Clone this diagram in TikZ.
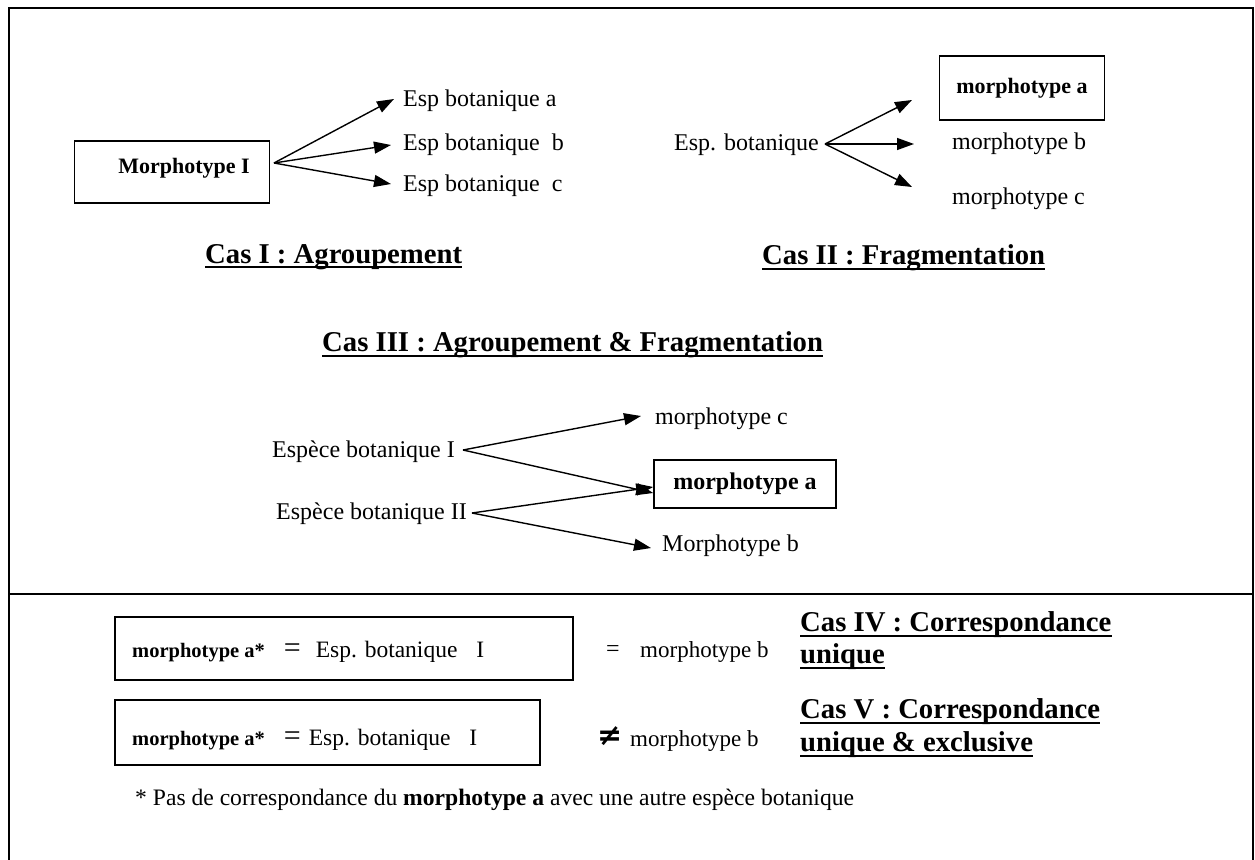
\documentclass[tikz,border=0pt]{standalone}
\usepackage{fontspec}
\setmainfont{Liberation Serif}
\newfontfamily\dejavu{DejaVu Sans}
\usetikzlibrary{arrows.meta}
\newcommand{\bigeqsign}{{\fontsize{30}{30}\selectfont=}}
\begin{document}
\begin{tikzpicture}[x=1pt,y=-1pt,
  reg/.style={inner sep=0pt, anchor=west, font=\fontsize{24}{28}\selectfont},
  sml/.style={inner sep=0pt, anchor=west, font=\fontsize{23}{26}\selectfont},
  rowtxt/.style={inner sep=0pt, anchor=base west, font=\fontsize{23.5}{26}\selectfont},
  bld/.style={inner sep=0pt, font=\fontsize{22}{26}\selectfont\bfseries},
  ttl/.style={inner sep=0pt, anchor=west, font=\fontsize{28.7}{32}\selectfont\bfseries},
  boxed/.style={draw, line width=1.6pt, inner sep=0pt},
  arr/.style={line width=1.4pt, -{Triangle[length=17pt,width=12pt]}},
  frm/.style={line width=1.8pt},
  uline/.style={line width=1.7pt}]
\useasboundingbox (0,0) rectangle (1255,859);
% frame
\draw[frm] (9,875) -- (9,8) -- (1253,8) -- (1253,875);
\draw[frm] (9,594) -- (1253,594);

% ---------- Cas I
\node[boxed, minimum width=195pt, minimum height=62pt] (m1) at (172,172) {};
\node[bld] (m1t) at (184,168) {Morphotype I};
\coordinate (o1) at (274,163);
\node[reg] (ea) at (403,101) {Esp botanique a};
\node[reg] (eb) at (403,145) {Esp botanique\ \ b};
\node[reg] (ec) at (403,186) {Esp botanique\ \ c};
\draw[arr] (o1) -- ([xshift=-9pt,yshift=2pt]ea.west);
\draw[arr] (o1) -- ([xshift=-12pt]eb.west);
\draw[arr] (o1) -- ([xshift=-12pt,yshift=2pt]ec.west);
\node[ttl] (t1) at (205,257) {Cas I : Agroupement};
\draw[uline] ([yshift=-4pt]t1.base west) -- ([yshift=-4pt]t1.base east);

% ---------- Cas II
\node[reg] (esp) at (674,145) {Esp. botanique};
\coordinate (o2) at (825,144);
\node[boxed, bld, minimum width=165pt, minimum height=64pt] (ma) at (1022,88) {morphotype a};
\node[reg] (mb) at (952,144) {morphotype b};
\node[reg] (mc) at (952,199) {morphotype c};
\coordinate (t2a) at (912,100);
\draw[arr] (o2) -- (t2a);
\draw[arr] (o2) -- ([xshift=-38pt]mb.west);
\draw[arr] (o2) -- ([xshift=-40pt,yshift=12pt]mc.west);
\node[ttl] (t2) at (762,258) {Cas II : Fragmentation};
\draw[uline] ([yshift=-4pt]t2.base west) -- ([yshift=-4pt]t2.base east);

% ---------- Cas III
\node[ttl] (t3) at (322,345) {Cas III : Agroupement \& Fragmentation};
\draw[uline] ([yshift=-4pt]t3.base west) -- ([yshift=-4pt]t3.base east);
\node[reg] (s1) at (272,452) {Espèce botanique I};
\node[reg] (s2) at (276,514) {Espèce botanique II};
\coordinate (o3) at (463,450);
\coordinate (o4) at (472,513);
\node[boxed, font=\fontsize{24}{28}\selectfont\bfseries, minimum width=182pt, minimum height=48pt] (m3a) at (745,484) {morphotype a};
\node[reg] (m3c) at (655,419) {morphotype c};
\node[reg] (m3b) at (662,546) {Morphotype b};
\draw[arr] (o3) -- ([xshift=-14pt,yshift=3pt]m3c.west);
\draw[arr] (o3) -- ([yshift=-9pt]m3a.west);
\draw[arr] (o4) -- ([yshift=-3pt]m3a.west);
\draw[arr] (o4) -- ([xshift=-11pt,yshift=-2pt]m3b.west);

% ---------- Cas IV
\node[boxed, minimum width=458pt, minimum height=63pt] (b1) at (344,648.5) {};
\node[rowtxt] (b1t) at (132,657) {{\fontsize{20.5}{24}\selectfont\bfseries morphotype a*}\hspace{19pt}\bigeqsign\hspace{15pt}Esp. botanique\hspace{19pt}I};
\node[reg] (eq) at (606,651) {=};
\node[sml] (mb4) at (640,652) {morphotype b};
\node[ttl] (t4) at (800,625) {Cas IV : Correspondance};
\draw[uline] ([yshift=-4pt]t4.base west) -- ([yshift=-4pt]t4.base east);
\node[ttl] (t4b) at (800,657) {unique};
\draw[uline] ([yshift=-4pt]t4b.base west) -- ([yshift=-4pt]t4b.base east);

% ---------- Cas V
\node[boxed, minimum width=425pt, minimum height=65pt] (b2) at (327.5,732.5) {};
\node[rowtxt] (b2t) at (132,745) {{\fontsize{20.5}{24}\selectfont\bfseries morphotype a*}\hspace{19pt}\bigeqsign\hspace{8pt}Esp. botanique\hspace{19pt}I};
\node[inner sep=0pt, anchor=west, font=\fontsize{30}{30}\dejavu\bfseries] (neq) at (597,736) {≠};
\node[sml] (mb5) at (630,741) {morphotype b};
\node[ttl] (t5) at (800,712) {Cas V : Correspondance};
\draw[uline] ([yshift=-4pt]t5.base west) -- ([yshift=-4pt]t5.base east);
\node[ttl] (t5b) at (800,745) {unique \& exclusive};
\draw[uline] ([yshift=-4pt]t5b.base west) -- ([yshift=-4pt]t5b.base east);

% footnote
\node[reg, font=\fontsize{23.6}{28}\selectfont] (fn) at (135,800) {* Pas de correspondance du \textbf{morphotype a} avec une autre espèce botanique};
\end{tikzpicture}
\end{document}
